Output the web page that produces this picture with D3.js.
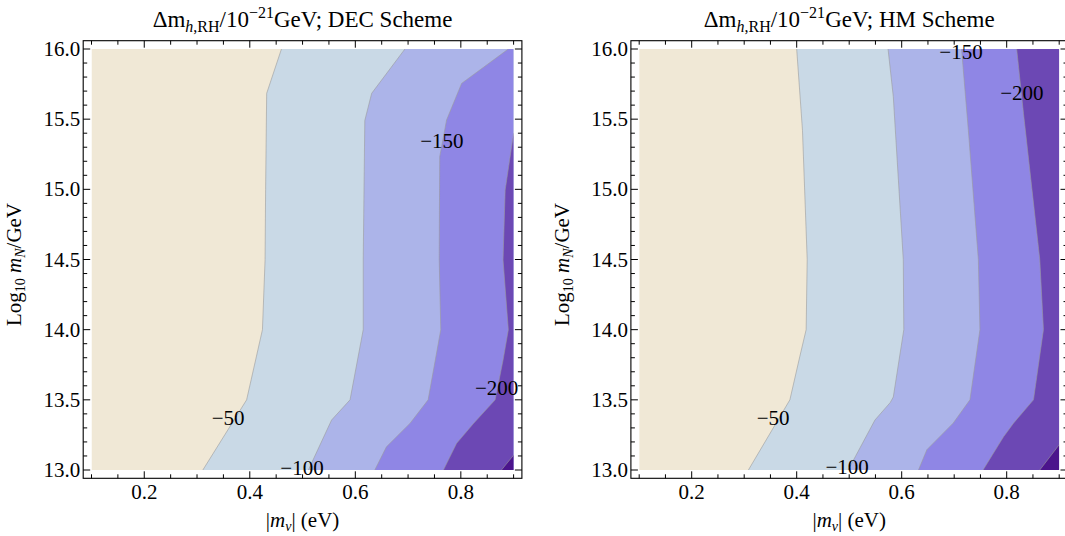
<!DOCTYPE html>
<html><head><meta charset="utf-8">
<script src="https://cdn.jsdelivr.net/npm/d3@7"></script>
<style>body{margin:0;background:#fff} svg text{font-family:"Liberation Serif","DejaVu Serif",serif;fill:#000}</style>
</head><body><svg id="c" width="1065" height="536"></svg>
<script>
// ---------- data ----------
const levels = [-50, -100, -150, -200, -250];
const bandColors = ["#F0E8D6", "#C9D9E6", "#ACB4E9", "#8F86E5", "#6C48B4", "#4B148C"];
const xMajor = [0.2, 0.4, 0.6, 0.8];
const xMinor = [0.1, 0.15, 0.25, 0.3, 0.35, 0.45, 0.5, 0.55, 0.65, 0.7, 0.75, 0.85, 0.9];
const yMajor = [13.0, 13.5, 14.0, 14.5, 15.0, 15.5, 16.0];
const yMinor = [13.1, 13.2, 13.3, 13.4, 13.6, 13.7, 13.8, 13.9, 14.1, 14.2, 14.3, 14.4, 14.6, 14.7, 14.8, 14.9, 15.1, 15.2, 15.3, 15.4, 15.6, 15.7, 15.8, 15.9];

// DEC scheme contour boundaries [|m_nu| (eV), log10 mN/GeV]
const dec50  = [[0.460,16.0],[0.432,15.684],[0.430,15.0],[0.429,14.5],[0.424,14.0],[0.394,13.5],[0.311,13.0]];
const dec100 = [[0.694,16.0],[0.631,15.684],[0.618,15.49],[0.615,14.5],[0.615,14.0],[0.590,13.5],[0.555,13.356],[0.511,13.0]];
const dec150 = [[0.890,16.0],[0.8015,15.755],[0.773,15.494],[0.760,15.232],[0.759,14.5],[0.762,14.0],[0.738,13.5],[0.704,13.334],[0.659,13.165],[0.637,13.0]];
const dec200 = [[0.900,15.4],[0.884,14.995],[0.880,14.496],[0.890,14.0],[0.880,13.783],[0.865,13.5],[0.824,13.332],[0.792,13.19],[0.767,13.0]];
const dec250 = [[0.900,13.106],[0.877,13.0]];
const decLabels = [[0.359,13.37,"−50"],[0.499,13.014,"−100"],[0.764,15.344,"−150"],[0.868,13.584,"−200"]];

// HM scheme contour boundaries
const hm50  = [[0.400,16.0],[0.411,15.42],[0.420,14.5],[0.418,14.0],[0.406,13.81],[0.387,13.5],[0.308,13.0]];
const hm100 = [[0.574,16.0],[0.584,15.66],[0.603,14.5],[0.604,14.0],[0.584,13.52],[0.578,13.48],[0.549,13.356],[0.498,13.0]];
const hm150 = [[0.714,16.0],[0.727,15.42],[0.746,14.5],[0.749,14.0],[0.730,13.5],[0.698,13.334],[0.648,13.145],[0.632,13.0]];
const hm200 = [[0.819,16.0],[0.832,15.54],[0.863,14.5],[0.870,14.0],[0.851,13.5],[0.813,13.334],[0.794,13.237],[0.755,13.0]];
const hm250 = [[0.900,13.18],[0.863,13.0]];
const hmLabels = [[0.355,13.37,"−50"],[0.496,13.02,"−100"],[0.713,15.98,"−150"],[0.829,15.69,"−200"]];

const xDomain = [0.1, 0.9], yDomain = [13, 16];

// ---------- drawing ----------
const svg = d3.select("#c");

function drawPanel(cfg) {
  const x = d3.scaleLinear().domain(xDomain).range([cfg.x0, cfg.x1]);
  const y = d3.scaleLinear().domain(yDomain).range([cfg.yb, cfg.yt]);
  const pad = 8.3;
  const fx0 = cfg.x0 - pad, fx1 = cfg.x1 + pad, fy0 = cfg.yt - pad, fy1 = cfg.yb + pad;
  const g = svg.append("g");
  const clipId = "clip" + cfg.id;
  g.append("clipPath").attr("id", clipId).append("rect")
    .attr("x", x(xDomain[0])).attr("y", y(yDomain[1]))
    .attr("width", x(xDomain[1]) - x(xDomain[0])).attr("height", y(yDomain[0]) - y(yDomain[1]));
  const pg = g.append("g").attr("clip-path", `url(#${clipId})`);
  pg.append("rect").attr("x", x(0.1)).attr("y", y(16)).attr("width", x(0.9) - x(0.1)).attr("height", y(13) - y(16))
    .attr("fill", bandColors[0]);
  const line = d3.line().x(d => x(d[0])).y(d => y(d[1]));
  cfg.bounds.forEach((pts, i) => {
    const poly = pts.slice();
    const s = pts[0], e = pts[pts.length - 1];
    if (e[1] === yDomain[0]) poly.push([xDomain[1], yDomain[0]]);
    if (s[1] === yDomain[1]) poly.push([xDomain[1], yDomain[1]]);
    pg.append("path").attr("d", line(poly) + "Z").attr("fill", bandColors[i + 1]);
  });
  cfg.bounds.forEach(pts => {
    pg.append("path").attr("d", line(pts)).attr("fill", "none")
      .attr("stroke", "#9a9a9a").attr("stroke-opacity", 0.65).attr("stroke-width", 0.9);
  });
  // contour labels
  cfg.labels.forEach(l => {
    g.append("text").attr("x", x(l[0])).attr("y", y(l[1])).attr("text-anchor", "middle")
      .attr("dominant-baseline", "central").attr("font-size", 21).text(l[2]);
  });
  // frame
  g.append("rect").attr("x", fx0).attr("y", fy0).attr("width", fx1 - fx0).attr("height", fy1 - fy0)
    .attr("fill", "none").attr("stroke", "#000").attr("stroke-width", 1.1);
  const tk = g.append("g").attr("stroke", "#000").attr("stroke-width", 1);
  const addX = (vals, len) => vals.forEach(v => {
    tk.append("line").attr("x1", x(v)).attr("x2", x(v)).attr("y1", fy1).attr("y2", fy1 - len);
    tk.append("line").attr("x1", x(v)).attr("x2", x(v)).attr("y1", fy0).attr("y2", fy0 + len);
  });
  const addY = (vals, len) => vals.forEach(v => {
    tk.append("line").attr("y1", y(v)).attr("y2", y(v)).attr("x1", fx0).attr("x2", fx0 + len);
    tk.append("line").attr("y1", y(v)).attr("y2", y(v)).attr("x1", fx1).attr("x2", fx1 - len);
  });
  addX(xMajor, 7); addX(xMinor, 4); addY(yMajor, 7); addY(yMinor, 4);
  // tick labels
  xMajor.forEach(v => g.append("text").attr("x", x(v)).attr("y", fy1 + 21).attr("text-anchor", "middle")
    .attr("font-size", 21).text(d3.format(".1f")(v)));
  yMajor.forEach(v => g.append("text").attr("x", fx0 - 3).attr("y", y(v)).attr("text-anchor", "end")
    .attr("dominant-baseline", "central").attr("font-size", 21).text(d3.format(".1f")(v)));
  // title
  const cx = (fx0 + fx1) / 2;
  const t = g.append("text").attr("x", cx).attr("y", 27).attr("text-anchor", "middle").attr("font-size", 23);
  t.append("tspan").text("Δm");
  t.append("tspan").attr("dy", 5).attr("font-size", 16).attr("font-style", "italic").text("h");
  t.append("tspan").attr("font-size", 16).text(",RH");
  t.append("tspan").attr("dy", -5).text("/10");
  t.append("tspan").attr("dy", -9).attr("font-size", 16).text("−21");
  t.append("tspan").attr("dy", 9).text("GeV; " + cfg.scheme + " Scheme");
  // x label
  const xl = g.append("text").attr("x", cx).attr("y", 527).attr("text-anchor", "middle").attr("font-size", 21);
  xl.append("tspan").text("|");
  xl.append("tspan").attr("font-style", "italic").text("m");
  xl.append("tspan").attr("dy", 4).attr("font-size", 14).attr("font-style", "italic").text("ν");
  xl.append("tspan").attr("dy", -4).text("| (eV)");
  // y label
  const yl = g.append("text").attr("transform", `translate(${fx0 - 62},${(fy0 + fy1) / 2 + 5}) rotate(-90)`)
    .attr("text-anchor", "middle").attr("font-size", 21);
  yl.append("tspan").text("Log");
  yl.append("tspan").attr("dy", 4).attr("font-size", 14).text("10");
  yl.append("tspan").attr("dy", -4).text(" ");
  yl.append("tspan").attr("font-style", "italic").text("m");
  yl.append("tspan").attr("dy", 4).attr("font-size", 14).attr("font-style", "italic").text("N");
  yl.append("tspan").attr("dy", -4).text("/GeV");
}

drawPanel({id: "dec", x0: 91.5, x1: 513.6, yt: 49, yb: 470, scheme: "DEC",
  bounds: [dec50, dec100, dec150, dec200, dec250], labels: decLabels});
drawPanel({id: "hm", x0: 639.2, x1: 1059.2, yt: 49, yb: 470, scheme: "HM",
  bounds: [hm50, hm100, hm150, hm200, hm250], labels: hmLabels});
</script></body></html>
